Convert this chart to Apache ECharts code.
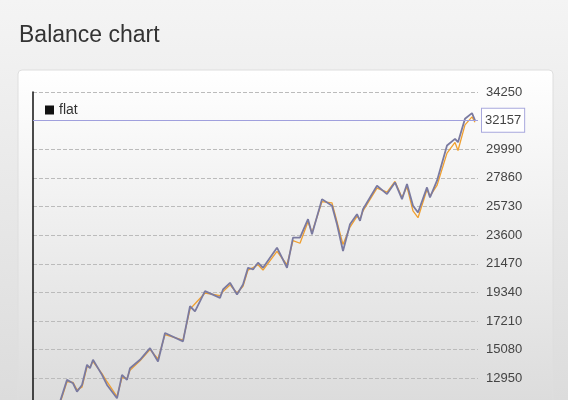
<!doctype html>
<html>
<head>
<meta charset="utf-8">
<script src="https://cdn.jsdelivr.net/npm/echarts@6/dist/echarts.min.js"></script>
<style>
html,body{margin:0;overflow:hidden;height:400px;}
body{background:linear-gradient(#f4f4f4,#dcdcdc);}
#main{width:568px;height:420px;}
</style>
</head>
<body>
<div id="main"></div>
<script type="text/javascript">
// trade number and balance for the two curves
var trades = [0,15,27,34,40,44,49,54,57,60,69,74,84,89,94,97,107,117,125,132,150,157,162,172,187,190,197,204,210,215,220,225,230,244,254,260,267,275,279,289,299,304,310,317,324,327,330,344,354,362,369,374,380,385,394,397,404,414,422,425,432,439,442];
var balance = [9800,10500,11217,12836,12587,11964,12462,13956,13707,14330,13209,12462,11466,13209,12836,13707,14330,15201,14205,16322,15699,18314,17940,19434,18936,19559,20057,19185,19932,21177,21053,21551,21177,22671,21177,23418,23418,24788,23667,26282,25784,24414,22422,24414,25161,24663,25535,27278,26655,27527,26282,27402,25784,25286,27153,26406,27651,30266,30764,30515,32258,32681,32133];
var balanceFlat = [9700,10400,11100,12700,12650,12100,12300,13800,13800,14200,13300,12700,11600,13000,12950,13550,14250,15100,14400,16200,15800,18100,18500,19300,19100,19400,19900,19300,19800,21000,21200,21400,21000,22400,21400,23200,23000,24600,23800,26100,26000,24600,22900,24200,25000,24800,25400,27100,26800,27600,26400,27200,25400,24900,27000,26500,27300,29700,30500,29900,31800,32400,32000];
var yTicks = [10820,12950,15080,17210,19340,21470,23600,25730,27860,29990,32120,34250];
var lastValue = 32157;

function pairs(ys){
  var res = [];
  for(var i = 0;i<trades.length;i++){ res.push([trades[i], ys[i]]); }
  return res;
}

var myChart = echarts.init(document.getElementById('main'));
var option = {
  animation:false,
  title:{ text:'Balance chart', left:14, top:19, textStyle:{ fontSize:23, fontWeight:'normal', color:'#333', fontFamily:'Liberation Sans' } },
  graphic:[{
    type:'rect', z:-10, shape:{ x:18, y:70, width:535, height:360, r:4 },
    style:{ stroke:'#dedede', fill:new echarts.graphic.LinearGradient(0,0,0,1,[{offset:0,color:'#ffffff'},{offset:1,color:'#d9d9d9'}]) }
  }],
  legend:{ data:['flat'], left:40, top:98, icon:'rect', itemWidth:9, itemHeight:9, itemGap:4,
    textStyle:{ fontSize:14, color:'#333', fontFamily:'Liberation Sans' } },
  grid:{ left:33, right:90, top:92, bottom:13 },
  xAxis:{ type:'value', min:0, max:445, show:false },
  yAxis:[{
    type:'value', position:'right', min:yTicks[0], max:yTicks[yTicks.length-1], interval:2130,
    axisLine:{ show:false }, axisTick:{ show:false },
    axisLabel:{ color:'#444', fontSize:13, margin:8, fontFamily:'Liberation Sans', formatter:function(v){ return String(v); } },
    splitLine:{ lineStyle:{ type:'dashed', color:'#bbb' } }
  },{
    type:'value', position:'left', min:yTicks[0], max:yTicks[yTicks.length-1],
    axisLine:{ show:true, lineStyle:{ color:'#111', width:1.5 } }, axisTick:{ show:false },
    axisLabel:{ show:false }, splitLine:{ show:false }
  }],
  series:[
    { name:'flat', type:'line', data:[], itemStyle:{ color:'#111' } },
    { name:'flat balance', type:'line', data:pairs(balanceFlat), symbol:'none',
      lineStyle:{ color:'#f0a030', width:1.3 } },
    { name:'balance', type:'line', data:pairs(balance), symbol:'none',
      lineStyle:{ color:'#7a7aa0', width:1.8 },
      markLine:{ symbol:'none', silent:true,
        lineStyle:{ color:'#a0a0dd', type:'solid', width:1 },
        label:{ position:'end', formatter:String(lastValue), color:'#444', fontSize:13, fontFamily:'Liberation Sans',
          backgroundColor:'#fff', borderColor:'#a8a8dd', borderWidth:1, padding:[5,3,5,3], distance:4 },
        data:[{ yAxis:lastValue }] } }
  ]
};
myChart.setOption(option);
</script>
</body>
</html>
